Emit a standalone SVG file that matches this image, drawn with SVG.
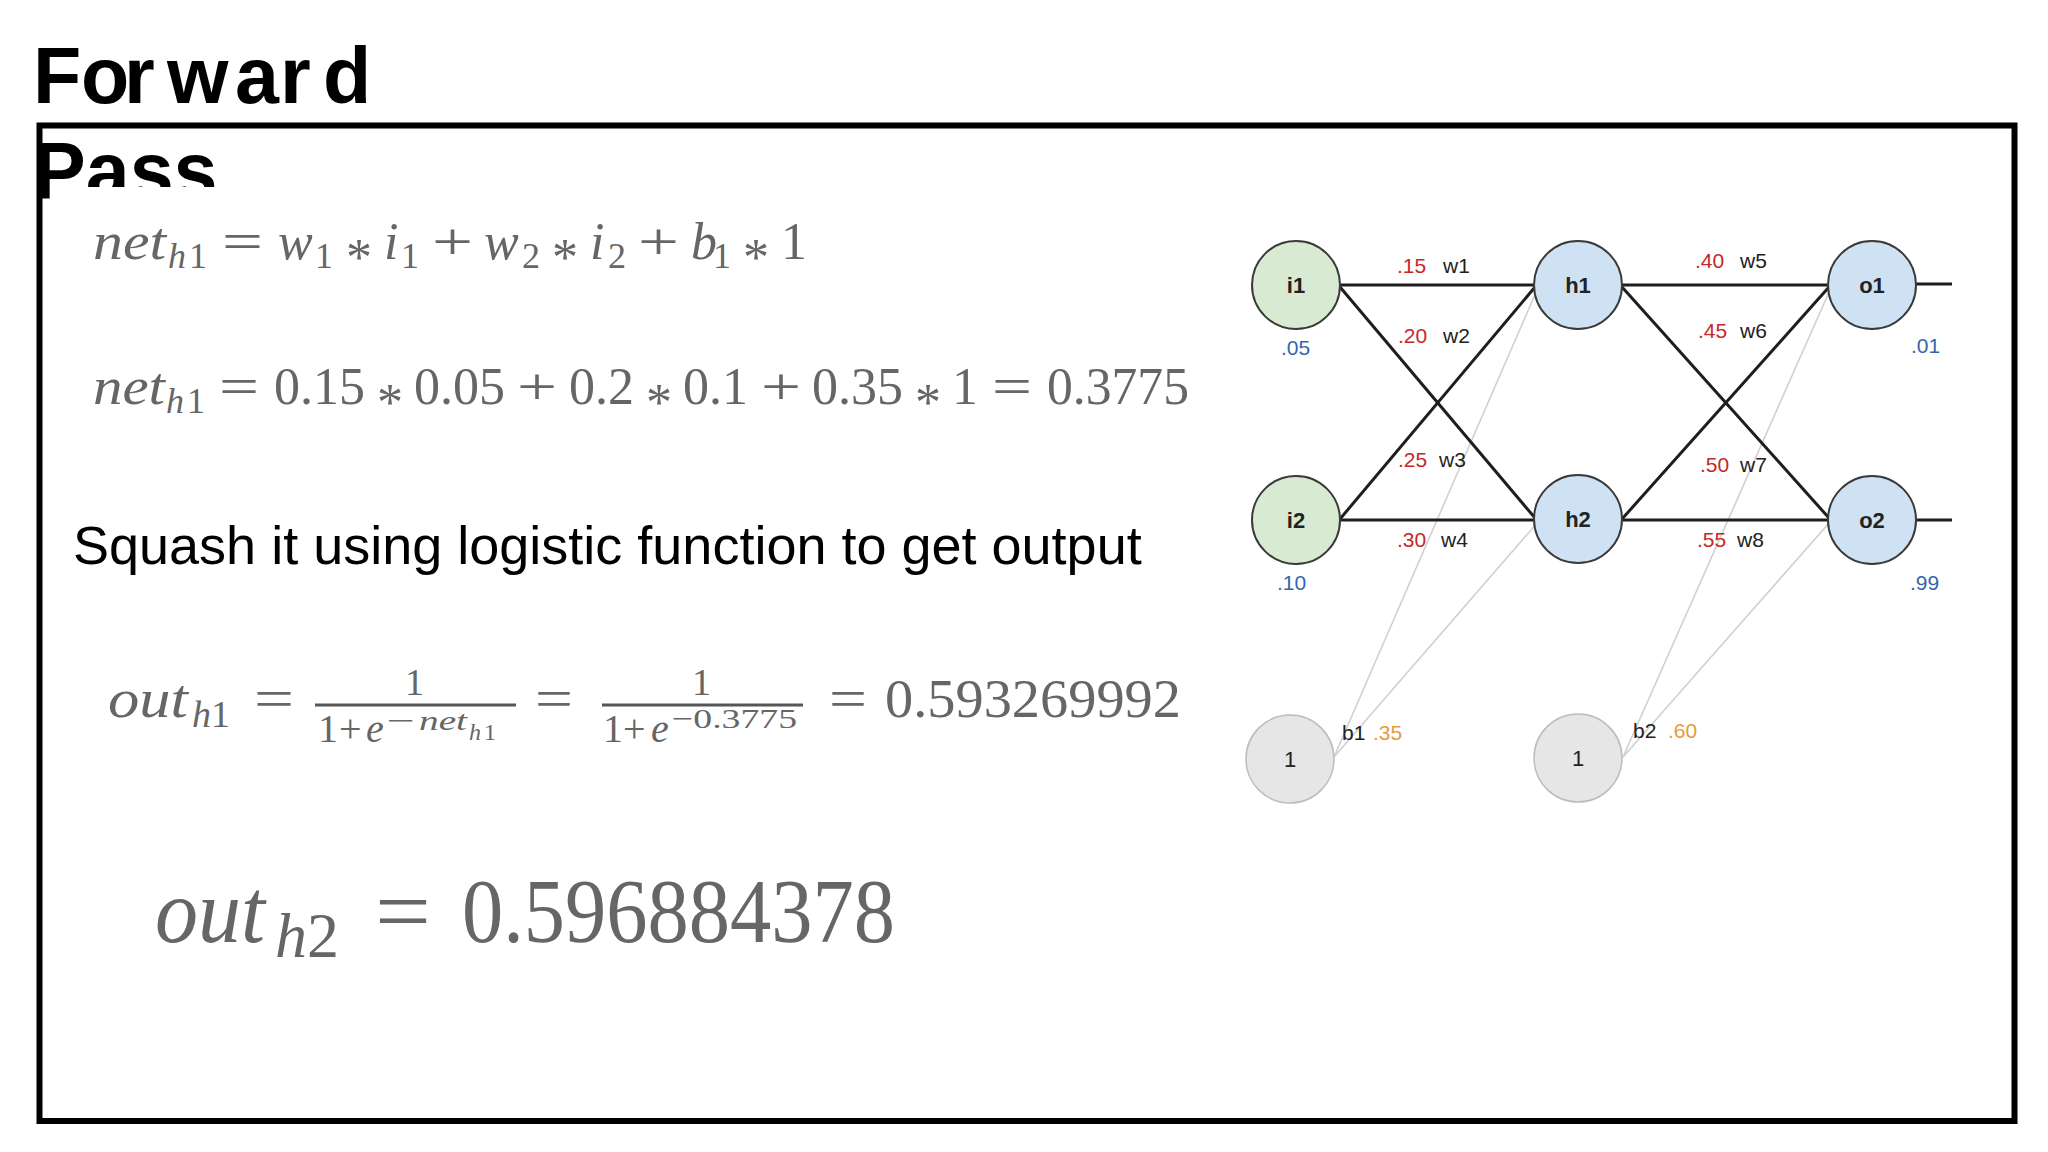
<svg xmlns="http://www.w3.org/2000/svg" width="2048" height="1152" viewBox="0 0 2048 1152">
<style>
.title{font-family:"Liberation Sans",Arial,sans-serif;font-weight:bold;font-size:79px;fill:#000}
.eq{font-family:"Liberation Serif","DejaVu Serif",serif;fill:#666}
.it{font-style:italic}
.body{font-family:"Liberation Sans",Arial,sans-serif;font-size:54px;fill:#000}
.lbl{font-family:"Liberation Sans",Arial,sans-serif;font-size:21px;fill:#222}
.nl{font-family:"Liberation Sans",Arial,sans-serif;font-size:22px;font-weight:bold;fill:#222;text-anchor:middle}
.bl{font-family:"Liberation Sans",Arial,sans-serif;font-size:22px;fill:#222;text-anchor:middle}
.red{fill:#c62828}
.blue{fill:#3466ad}
.org{fill:#e69a3c}
.in{fill:#d9ead3;stroke:#3a3a3a;stroke-width:2}
.hid{fill:#cfe2f3;stroke:#3a3a3a;stroke-width:2}
.bias{fill:#e6e6e6;stroke:#bdbdbd;stroke-width:1.5}
.w{stroke:#1e1e1e;stroke-width:3;fill:none}
.bw{stroke:#d0d0d0;stroke-width:1.6;fill:none}
.bar{stroke:#555;stroke-width:3}
</style>
<rect width="2048" height="1152" fill="#fff"/>
<g id="title">
<text class="title" x="33 81 124 167 235 280 323" y="103">Forward</text>
<text class="title" x="33" y="198">Pass</text>
</g>
<rect id="frame" x="39.5" y="125.5" width="1975" height="995.5" fill="none" stroke="#000" stroke-width="6"/>
<rect x="54" y="187" width="1160" height="900" fill="#fff"/>
<g id="eq1">
<text class="eq" font-size="52"><tspan class="it" x="93" y="259" textLength="73" lengthAdjust="spacingAndGlyphs">net</tspan><tspan class="it" x="168" y="268" font-size="36">h</tspan><tspan x="189" y="268" font-size="36">1</tspan><tspan x="222" y="259" textLength="41" lengthAdjust="spacingAndGlyphs">=</tspan><tspan class="it" x="278" y="259">w</tspan><tspan x="315" y="268" font-size="36">1</tspan><tspan x="346" y="275">*</tspan><tspan class="it" x="384" y="259">i</tspan><tspan x="401" y="268" font-size="36">1</tspan><tspan x="432" y="259" textLength="41" lengthAdjust="spacingAndGlyphs">+</tspan><tspan class="it" x="484" y="259">w</tspan><tspan x="522" y="268" font-size="36">2</tspan><tspan x="552" y="275">*</tspan><tspan class="it" x="590" y="259">i</tspan><tspan x="608" y="268" font-size="36">2</tspan><tspan x="638" y="259" textLength="41" lengthAdjust="spacingAndGlyphs">+</tspan><tspan class="it" x="691" y="259">b</tspan><tspan x="713" y="268" font-size="36">1</tspan><tspan x="743" y="275">*</tspan><tspan x="781" y="259">1</tspan></text>
</g>
<g id="eq2">
<text class="eq" font-size="52"><tspan class="it" x="93" y="404" textLength="72" lengthAdjust="spacingAndGlyphs">net</tspan><tspan class="it" x="166" y="413" font-size="36">h</tspan><tspan x="187" y="413" font-size="36">1</tspan><tspan x="219" y="404" textLength="40" lengthAdjust="spacingAndGlyphs">=</tspan><tspan x="274" y="404">0.15</tspan><tspan x="377" y="420">*</tspan><tspan x="414" y="404">0.05</tspan><tspan x="517" y="404" textLength="40" lengthAdjust="spacingAndGlyphs">+</tspan><tspan x="569" y="404">0.2</tspan><tspan x="646" y="420">*</tspan><tspan x="683" y="404">0.1</tspan><tspan x="761" y="404" textLength="40" lengthAdjust="spacingAndGlyphs">+</tspan><tspan x="812" y="404">0.35</tspan><tspan x="915" y="420">*</tspan><tspan x="952" y="404">1</tspan><tspan x="992" y="404" textLength="40" lengthAdjust="spacingAndGlyphs">=</tspan><tspan x="1047" y="404" textLength="142" lengthAdjust="spacingAndGlyphs">0.3775</tspan></text>
</g>
<text id="squash" class="body" x="73" y="564">Squash it using logistic function to get output</text>
<g id="eq3">
<text class="eq" font-size="54"><tspan class="it" x="108" y="717" textLength="80" lengthAdjust="spacingAndGlyphs">out</tspan><tspan class="it" x="192" y="727" font-size="38">h</tspan><tspan x="211" y="727" font-size="38">1</tspan><tspan x="254" y="717" textLength="40" lengthAdjust="spacingAndGlyphs">=</tspan></text>
<line class="bar" x1="315" y1="705" x2="516" y2="705"/>
<text class="eq" font-size="38" x="405" y="695">1</text>
<text class="eq" font-size="40"><tspan x="318" y="742">1</tspan><tspan x="339" y="742">+</tspan><tspan class="it" x="366" y="742">e</tspan><tspan x="387" y="730" font-size="28" textLength="28" lengthAdjust="spacingAndGlyphs">−</tspan><tspan class="it" x="419" y="730" font-size="28" textLength="48" lengthAdjust="spacingAndGlyphs">net</tspan><tspan class="it" x="469" y="740" font-size="24">h</tspan><tspan x="484" y="740" font-size="24">1</tspan></text>
<text class="eq" font-size="54" x="535" y="717" textLength="38" lengthAdjust="spacingAndGlyphs">=</text>
<line class="bar" x1="602" y1="705" x2="803" y2="705"/>
<text class="eq" font-size="38" x="692" y="695">1</text>
<text class="eq" font-size="40"><tspan x="603" y="742">1</tspan><tspan x="623" y="742">+</tspan><tspan class="it" x="651" y="742">e</tspan><tspan x="672" y="728" font-size="28" textLength="125" lengthAdjust="spacingAndGlyphs">−0.3775</tspan></text>
<text class="eq" font-size="54"><tspan x="829" y="717" textLength="38" lengthAdjust="spacingAndGlyphs">=</tspan><tspan x="885" y="717" textLength="296" lengthAdjust="spacingAndGlyphs">0.593269992</tspan></text>
</g>
<g id="eq4">
<text class="eq" font-size="92"><tspan class="it" x="155" y="942" textLength="110" lengthAdjust="spacingAndGlyphs">out</tspan><tspan class="it" x="275" y="957" font-size="64">h</tspan><tspan x="307" y="957" font-size="64">2</tspan><tspan x="375" y="942" textLength="56" lengthAdjust="spacingAndGlyphs">=</tspan><tspan x="462" y="942" textLength="433" lengthAdjust="spacingAndGlyphs">0.596884378</tspan></text>
</g>
<g id="connectors">
<line class="bw" x1="1334" y1="757" x2="1537" y2="290"/>
<line class="bw" x1="1334" y1="757" x2="1538" y2="522"/>
<line class="bw" x1="1623" y1="757" x2="1830" y2="290"/>
<line class="bw" x1="1623" y1="757" x2="1830" y2="522"/>
<line class="w" x1="1340" y1="285" x2="1534" y2="285"/>
<line class="w" x1="1340" y1="287" x2="1535" y2="518"/>
<line class="w" x1="1340" y1="519" x2="1535" y2="287"/>
<line class="w" x1="1340" y1="520" x2="1534" y2="520"/>
<line class="w" x1="1622" y1="285" x2="1828" y2="285"/>
<line class="w" x1="1622" y1="287" x2="1829" y2="518"/>
<line class="w" x1="1622" y1="519" x2="1829" y2="287"/>
<line class="w" x1="1622" y1="520" x2="1828" y2="520"/>
<line class="w" x1="1916" y1="284" x2="1952" y2="284"/>
<line class="w" x1="1916" y1="520" x2="1952" y2="520"/>
</g>
<g id="w-labels">
<text class="lbl" x="1397" y="273"><tspan class="red">.15</tspan><tspan x="1443">w1</tspan></text>
<text class="lbl" x="1398" y="343"><tspan class="red">.20</tspan><tspan x="1443">w2</tspan></text>
<text class="lbl" x="1398" y="467"><tspan class="red">.25</tspan><tspan x="1439">w3</tspan></text>
<text class="lbl" x="1397" y="547"><tspan class="red">.30</tspan><tspan x="1441">w4</tspan></text>
<text class="lbl" x="1695" y="268"><tspan class="red">.40</tspan><tspan x="1740">w5</tspan></text>
<text class="lbl" x="1698" y="338"><tspan class="red">.45</tspan><tspan x="1740">w6</tspan></text>
<text class="lbl" x="1700" y="472"><tspan class="red">.50</tspan><tspan x="1740">w7</tspan></text>
<text class="lbl" x="1697" y="547"><tspan class="red">.55</tspan><tspan x="1737">w8</tspan></text>
</g>
<g id="node-i1"><ellipse class="in" cx="1296" cy="285" rx="44" ry="44"/><text class="nl" x="1296" y="293">i1</text><text class="lbl blue" x="1281" y="355">.05</text></g>
<g id="node-i2"><ellipse class="in" cx="1296" cy="520" rx="44" ry="44"/><text class="nl" x="1296" y="528">i2</text><text class="lbl blue" x="1277" y="590">.10</text></g>
<g id="node-h1"><ellipse class="hid" cx="1578" cy="285" rx="44" ry="44"/><text class="nl" x="1578" y="293">h1</text></g>
<g id="node-h2"><ellipse class="hid" cx="1578" cy="519" rx="44" ry="44"/><text class="nl" x="1578" y="527">h2</text></g>
<g id="node-o1"><ellipse class="hid" cx="1872" cy="285" rx="44" ry="44"/><text class="nl" x="1872" y="293">o1</text><text class="lbl blue" x="1911" y="353">.01</text></g>
<g id="node-o2"><ellipse class="hid" cx="1872" cy="520" rx="44" ry="44"/><text class="nl" x="1872" y="528">o2</text><text class="lbl blue" x="1910" y="590">.99</text></g>
<g id="node-b1"><ellipse class="bias" cx="1290" cy="759" rx="44" ry="44"/><text class="bl" x="1290" y="767">1</text><text class="lbl" x="1342" y="740">b1<tspan class="org" x="1373">.35</tspan></text></g>
<g id="node-b2"><ellipse class="bias" cx="1578" cy="758" rx="44" ry="44"/><text class="bl" x="1578" y="766">1</text><text class="lbl" x="1633" y="738">b2<tspan class="org" x="1668">.60</tspan></text></g>
</svg>
